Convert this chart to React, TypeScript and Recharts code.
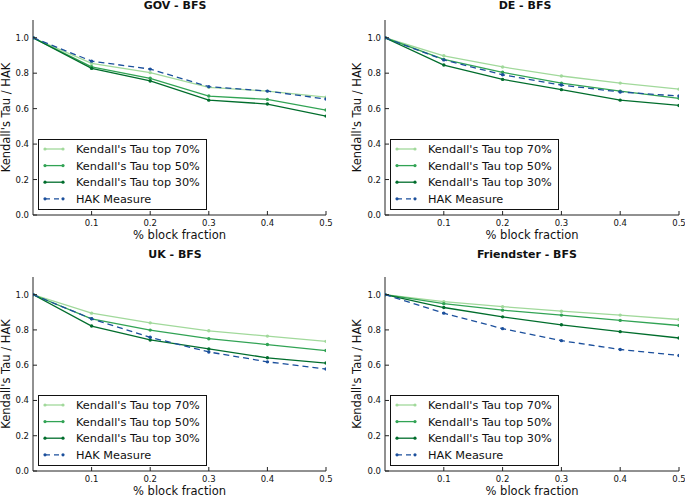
import { LineChart, Line, XAxis, YAxis } from "recharts"

const FRACTIONS = [0, 0.1, 0.2, 0.3, 0.4, 0.5]
const X_TICKS = [0.1, 0.2, 0.3, 0.4, 0.5]
const Y_TICKS = [0, 0.2, 0.4, 0.6, 0.8, 1.0]
const SERIES_NAMES = ["Kendall's Tau top 70%", "Kendall's Tau top 50%", "Kendall's Tau top 30%", "HAK Measure"]

const GOV_70 = [1.0, 0.855, 0.803, 0.72, 0.699, 0.665]
const GOV_50 = [1.0, 0.836, 0.771, 0.671, 0.652, 0.592]
const GOV_30 = [1.0, 0.827, 0.756, 0.648, 0.626, 0.558]
const GOV_HAK = [1.0, 0.868, 0.823, 0.724, 0.699, 0.654]

const DE_70 = [1.0, 0.898, 0.835, 0.784, 0.744, 0.71]
const DE_50 = [1.0, 0.878, 0.805, 0.744, 0.699, 0.658]
const DE_30 = [1.0, 0.846, 0.765, 0.707, 0.648, 0.618]
const DE_HAK = [1.0, 0.875, 0.791, 0.733, 0.694, 0.671]

const UK_70 = [1.0, 0.895, 0.84, 0.795, 0.765, 0.735]
const UK_50 = [1.0, 0.863, 0.799, 0.75, 0.717, 0.683]
const UK_30 = [1.0, 0.822, 0.743, 0.692, 0.642, 0.612]
const UK_HAK = [1.0, 0.863, 0.758, 0.675, 0.619, 0.578]

const FR_70 = [1.0, 0.96, 0.932, 0.906, 0.884, 0.859]
const FR_50 = [1.0, 0.949, 0.912, 0.884, 0.854, 0.825]
const FR_30 = [1.0, 0.927, 0.874, 0.829, 0.79, 0.754]
const FR_HAK = [1.0, 0.895, 0.807, 0.739, 0.689, 0.655]

const COLORS = ["#a1d99b", "#31a354", "#006d2c", "#1b4f9c"]
const KEYS = ["t70", "t50", "t30", "hak"]
const AXIS = "#222"

// layout of each subplot, in page pixels
const PANELS = [
  { title: "GOV - BFS", left: 0, top: 0, width: 342, height: 249, plot: { l: 33, t: 20, r: 326, b: 215 }, titleX: 175, yLabelX: 10, series: [GOV_70, GOV_50, GOV_30, GOV_HAK] },
  { title: "DE - BFS", left: 342, top: 0, width: 343, height: 249, plot: { l: 385, t: 20, r: 679, b: 215 }, titleX: 525, yLabelX: 19, series: [DE_70, DE_50, DE_30, DE_HAK] },
  { title: "UK - BFS", left: 0, top: 249, width: 342, height: 249, plot: { l: 33, t: 277, r: 326, b: 471 }, titleX: 175, yLabelX: 10, series: [UK_70, UK_50, UK_30, UK_HAK] },
  { title: "Friendster - BFS", left: 342, top: 249, width: 343, height: 249, plot: { l: 385, t: 277, r: 679, b: 471 }, titleX: 527, yLabelX: 19, series: [FR_70, FR_50, FR_30, FR_HAK] },
]

const fmt = (v: number) => Number(v).toFixed(1)

function BottomTick({ x, y, payload }: any) {
  return (
    <g>
      <line x1={x} x2={x} y1={y - 4} y2={y - 8} stroke={AXIS} />
      <text x={x} y={y} dy={7} textAnchor="middle" fontSize={8.5} fill="#111">{fmt(payload.value)}</text>
    </g>
  )
}

function LeftTick({ x, y, payload }: any) {
  return (
    <g>
      <line x1={x + 4} x2={x + 8} y1={y} y2={y} stroke={AXIS} />
      <text x={x} y={y} dy={3} textAnchor="end" fontSize={8.5} fill="#111">{fmt(payload.value)}</text>
    </g>
  )
}

function TopTick({ x, y }: any) {
  return <line x1={x} x2={x} y1={y} y2={y + 4} stroke={AXIS} />
}

function RightTick({ x, y }: any) {
  return <line x1={x} x2={x - 4} y1={y} y2={y} stroke={AXIS} />
}

function PanelLegend({ left, top }: { left: number; top: number }) {
  return (
    <svg style={{ position: "absolute", left, top, overflow: "visible" }} width={170} height={72}>
      <rect x={0.5} y={0.5} width={168} height={70} fill="#fff" stroke="#111" />
      {SERIES_NAMES.map((name, i) => {
        const cy = 10 + i * 16.6
        return (
          <g key={name}>
            <line x1={7} x2={25} y1={cy} y2={cy} stroke={COLORS[i]} strokeWidth={1.3} strokeDasharray={i === 3 ? "5 4" : undefined} />
            <circle cx={7} cy={cy} r={1.6} fill={COLORS[i]} />
            <circle cx={25} cy={cy} r={1.6} fill={COLORS[i]} />
            <text x={38} y={cy + 4} fontSize={11.3} fill="#111">{name}</text>
          </g>
        )
      })}
    </svg>
  )
}

function Panel({ cfg }: { cfg: (typeof PANELS)[number] }) {
  const data = FRACTIONS.map((f, i) => ({
    x: f,
    t70: cfg.series[0][i],
    t50: cfg.series[1][i],
    t30: cfg.series[2][i],
    hak: cfg.series[3][i],
  }))
  const yAxisW = cfg.plot.l - cfg.left
  const xAxisH = cfg.top + cfg.height - cfg.plot.b
  const mTop = cfg.plot.t - cfg.top
  const mRight = cfg.left + cfg.width - cfg.plot.r
  const cx = (cfg.plot.l + cfg.plot.r) / 2 - cfg.left
  const cy = (cfg.plot.t + cfg.plot.b) / 2 - cfg.top
  const xLabelY = cfg.plot.b - cfg.top + 23.5

  return (
    <div style={{ position: "absolute", left: cfg.left, top: cfg.top }}>
      <LineChart width={cfg.width} height={cfg.height} data={data} margin={{ top: mTop, right: mRight, bottom: 0, left: 0 }}>
        <XAxis
          dataKey="x"
          type="number"
          domain={[0, 0.5]}
          ticks={X_TICKS}
          interval={0}
          allowDataOverflow
          height={xAxisH}
          tickSize={0}
          tickMargin={4}
          tickLine={false}
          axisLine={{ stroke: AXIS }}
          tick={<BottomTick />}
          label={{
            content: () => (
              <text x={cx} y={xLabelY} textAnchor="middle" fontSize={11.5} fill="#111">% block fraction</text>
            ),
          }}
        />
        <XAxis
          xAxisId="top"
          orientation="top"
          dataKey="x"
          type="number"
          domain={[0, 0.5]}
          ticks={X_TICKS}
          interval={0}
          allowDataOverflow
          height={0}
          tickSize={0}
          tickMargin={0}
          tickLine={false}
          axisLine={{ stroke: AXIS }}
          tick={<TopTick />}
        />
        <YAxis
          type="number"
          domain={[0, 1.1]}
          ticks={Y_TICKS}
          interval={0}
          allowDataOverflow
          width={yAxisW}
          tickSize={0}
          tickMargin={4}
          tickLine={false}
          axisLine={{ stroke: AXIS }}
          tick={<LeftTick />}
          label={{
            content: () => (
              <text x={cfg.yLabelX} y={cy} transform={`rotate(-90 ${cfg.yLabelX} ${cy})`} textAnchor="middle" fontSize={11.5} fill="#111">
                Kendall's Tau / HAK
              </text>
            ),
          }}
        />
        <YAxis
          yAxisId="right"
          orientation="right"
          type="number"
          domain={[0, 1.1]}
          ticks={Y_TICKS}
          interval={0}
          allowDataOverflow
          width={0}
          tickSize={0}
          tickMargin={0}
          tickLine={false}
          axisLine={{ stroke: AXIS }}
          tick={<RightTick />}
        />
        {KEYS.map((k, i) => (
          <Line
            key={k}
            dataKey={k}
            type="linear"
            stroke={COLORS[i]}
            strokeWidth={1.3}
            strokeDasharray={k === "hak" ? "6 4" : undefined}
            dot={{ r: 1.7, fill: COLORS[i], stroke: COLORS[i], strokeWidth: 0 }}
            activeDot={false}
            isAnimationActive={false}
          />
        ))}
      </LineChart>
    </div>
  )
}

export default function App() {
  return (
    <div
      style={{
        position: "absolute",
        left: 0,
        top: 0,
        width: 685,
        height: 498,
        background: "#fff",
        overflow: "hidden",
        fontFamily: '"DejaVu Sans", sans-serif',
      }}
    >
      <svg style={{ position: "absolute", left: 0, top: 0 }} width={685} height={498}>
        {PANELS.map((p) => (
          <text key={p.title} x={p.titleX} y={p.top + 9} textAnchor="middle" fontSize={11} fontWeight="bold" fill="#111">
            {p.title}
          </text>
        ))}
      </svg>
      {PANELS.map((p) => (
        <Panel key={p.title} cfg={p} />
      ))}
      {PANELS.map((p) => (
        <PanelLegend key={p.title + "-legend"} left={p.plot.l + 5} top={p.plot.b - 76} />
      ))}
    </div>
  )
}
